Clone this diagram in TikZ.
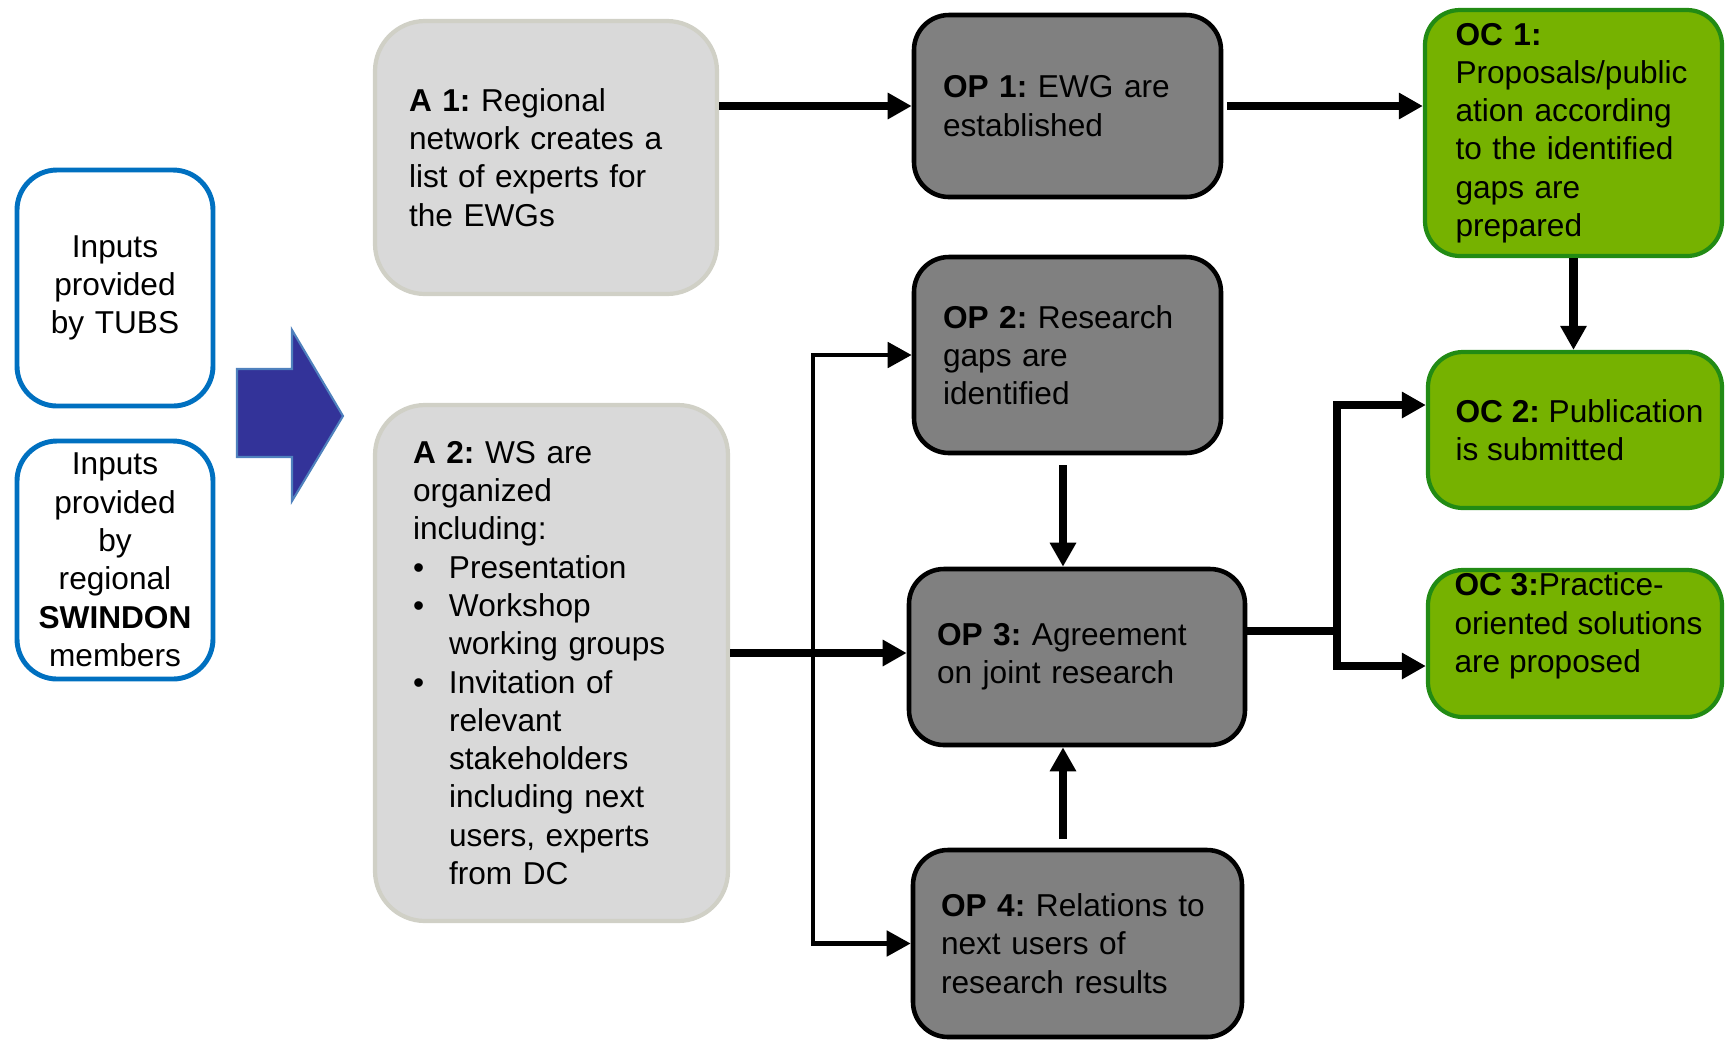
\documentclass[tikz,border=0pt]{standalone}
\usepackage{fontspec}
\setmainfont{Liberation Sans}
\usetikzlibrary{arrows.meta,positioning}
\hyphenpenalty=10000
\exhyphenpenalty=10000

\definecolor{inblue}{RGB}{0,112,192}
\definecolor{arrblue}{RGB}{51,51,153}
\definecolor{arrline}{RGB}{79,129,189}
\definecolor{actgray}{RGB}{217,217,217}
\definecolor{actline}{RGB}{208,208,198}
\definecolor{opgray}{RGB}{128,128,128}
\definecolor{ocgreen}{RGB}{118,178,0}
\definecolor{ocline}{RGB}{34,139,20}

\tikzstyle{inbox} = [rectangle, draw=inblue, line width=1.4pt, fill=white,
    rounded corners=4mm, text width=17mm, align=center, minimum width=19.6mm]
\tikzstyle{actbox} = [rectangle, draw=actline, line width=1.2pt, fill=actgray,
    rounded corners=5mm, align=left, inner xsep=1mm]
\tikzstyle{opbox} = [rectangle, draw=black, line width=1.3pt, fill=opgray,
    rounded corners=3.5mm, align=left, inner xsep=1mm]
\tikzstyle{ocbox} = [rectangle, draw=ocline, line width=1.2pt, fill=ocgreen,
    rounded corners=3.5mm, align=left, inner xsep=1mm]
\tikzstyle{octext} = [align=left, inner sep=0pt]
\tikzstyle{flow} = [->, line width=2.4pt]
\tikzstyle{thinflow} = [->, line width=1.4pt]

\newcommand{\bul}{\makebox[3.6mm][l]{\textbullet}}
\newcommand{\ind}{\hspace*{3.6mm}}

\begin{document}
\begin{tikzpicture}[x=0.1mm,y=-0.1mm,>={Triangle[length=2.4mm,width=2.5mm]},
                    font=\fontsize{9pt}{10.9pt}\selectfont\frenchspacing]
  \useasboundingbox (0,0) rectangle (1726,1040);

  % inputs
  \node[inbox, minimum height=23.6mm] (tubs) at (115,288) {Inputs\\provided\\by TUBS};
  \node[inbox, minimum height=23.8mm] (swin) at (115,560)
       {Inputs\\provided\\by\\regional\\\textbf{SWINDON}\\members};
  \draw[fill=arrblue, draw=arrline, line width=0.6pt] (237,369) -- (292,369) -- (292,330)
       -- (343,416) -- (292,501) -- (292,457) -- (237,457) -- cycle;

  % activities
  \node[actbox, minimum width=34.2mm, minimum height=27.3mm, text width=27.4mm] (a1) at (546,157.5)
       {\textbf{A 1:} Regional\\network creates a\\list of experts for\\the EWGs};
  \node[actbox, minimum width=35.3mm, minimum height=51.6mm, text width=27.7mm] (a2) at (551.5,663)
       {\textbf{A 2:} WS are\\organized\\including:\\\bul Presentation\\\bul Workshop\\\ind working groups\\
        \bul Invitation of\\\ind relevant\\\ind stakeholders\\\ind including next\\\ind users, experts\\\ind from DC};

  % outputs
  \node[opbox, minimum width=30.7mm, minimum height=18.2mm, text width=24.9mm] (op1) at (1067.5,106)
       {\textbf{OP 1:} EWG are\\established};
  \node[opbox, minimum width=30.7mm, minimum height=19.6mm, text width=24.9mm] (op2) at (1067.5,355)
       {\textbf{OP 2:} Research\\gaps are\\identified};
  \node[opbox, minimum width=33.6mm, minimum height=17.6mm, text width=28mm] (op3) at (1077,657)
       {\textbf{OP 3:} Agreement\\on joint research};
  \node[opbox, minimum width=32.9mm, minimum height=18.7mm, text width=27.3mm] (op4) at (1077.5,943.5)
       {\textbf{OP 4:} Relations to\\next users of\\research results};

  % outcomes
  \node[ocbox, minimum width=29.7mm, minimum height=24.6mm, text width=23.6mm] (oc1) at (1573.5,133)
       {\textbf{OC 1:}\\Proposals/public\\ation according\\to the identified\\gaps are\\prepared};
  \node[ocbox, minimum width=29.4mm, minimum height=15.6mm] (oc2) at (1575,430) {};
  \node[octext] (oc2txt) at (1579.5,430) {\textbf{OC 2:} Publication\\is submitted};
  \node[ocbox, minimum width=29.4mm, minimum height=14.7mm] (oc3) at (1575,643.5) {};
  \node[octext] (oc3txt) at (1578.5,626) {\textbf{OC 3:}Practice-\\oriented solutions\\are proposed};

  \coordinate (fork) at (813,653);
  \coordinate (hub) at (1337,631);

  \draw[flow] (a1.east |- op1.west) -- (op1.west);
  \draw[flow, shorten <=0.4mm] (op1.east) -- (op1.east -| oc1.west);
  \draw[flow] (oc1.south) -- (oc1.south |- oc2.north);
  \draw[flow, shorten <=1mm] ([xshift=-0.45mm]op2.south) -- ([xshift=-0.45mm]op2.south |- op3.north);
  \draw[flow, shorten <=0.9mm] ([xshift=-1.45mm]op4.north) -- ([xshift=-1.45mm]op4.north |- op3.south);
  \draw[flow] (a2.east |- fork) -- (fork -| op3.west);
  \draw[thinflow] (fork) |- (op2.west);
  \draw[thinflow] (fork) |- (op4.west);
  \draw[line width=2.4pt] (op3.east |- hub) -- (hub);
  \draw[flow] (hub) |- ([yshift=2.5mm]oc2.west);
  \draw[flow] (hub) |- ([yshift=-2.25mm]oc3.west);
\end{tikzpicture}
\end{document}
